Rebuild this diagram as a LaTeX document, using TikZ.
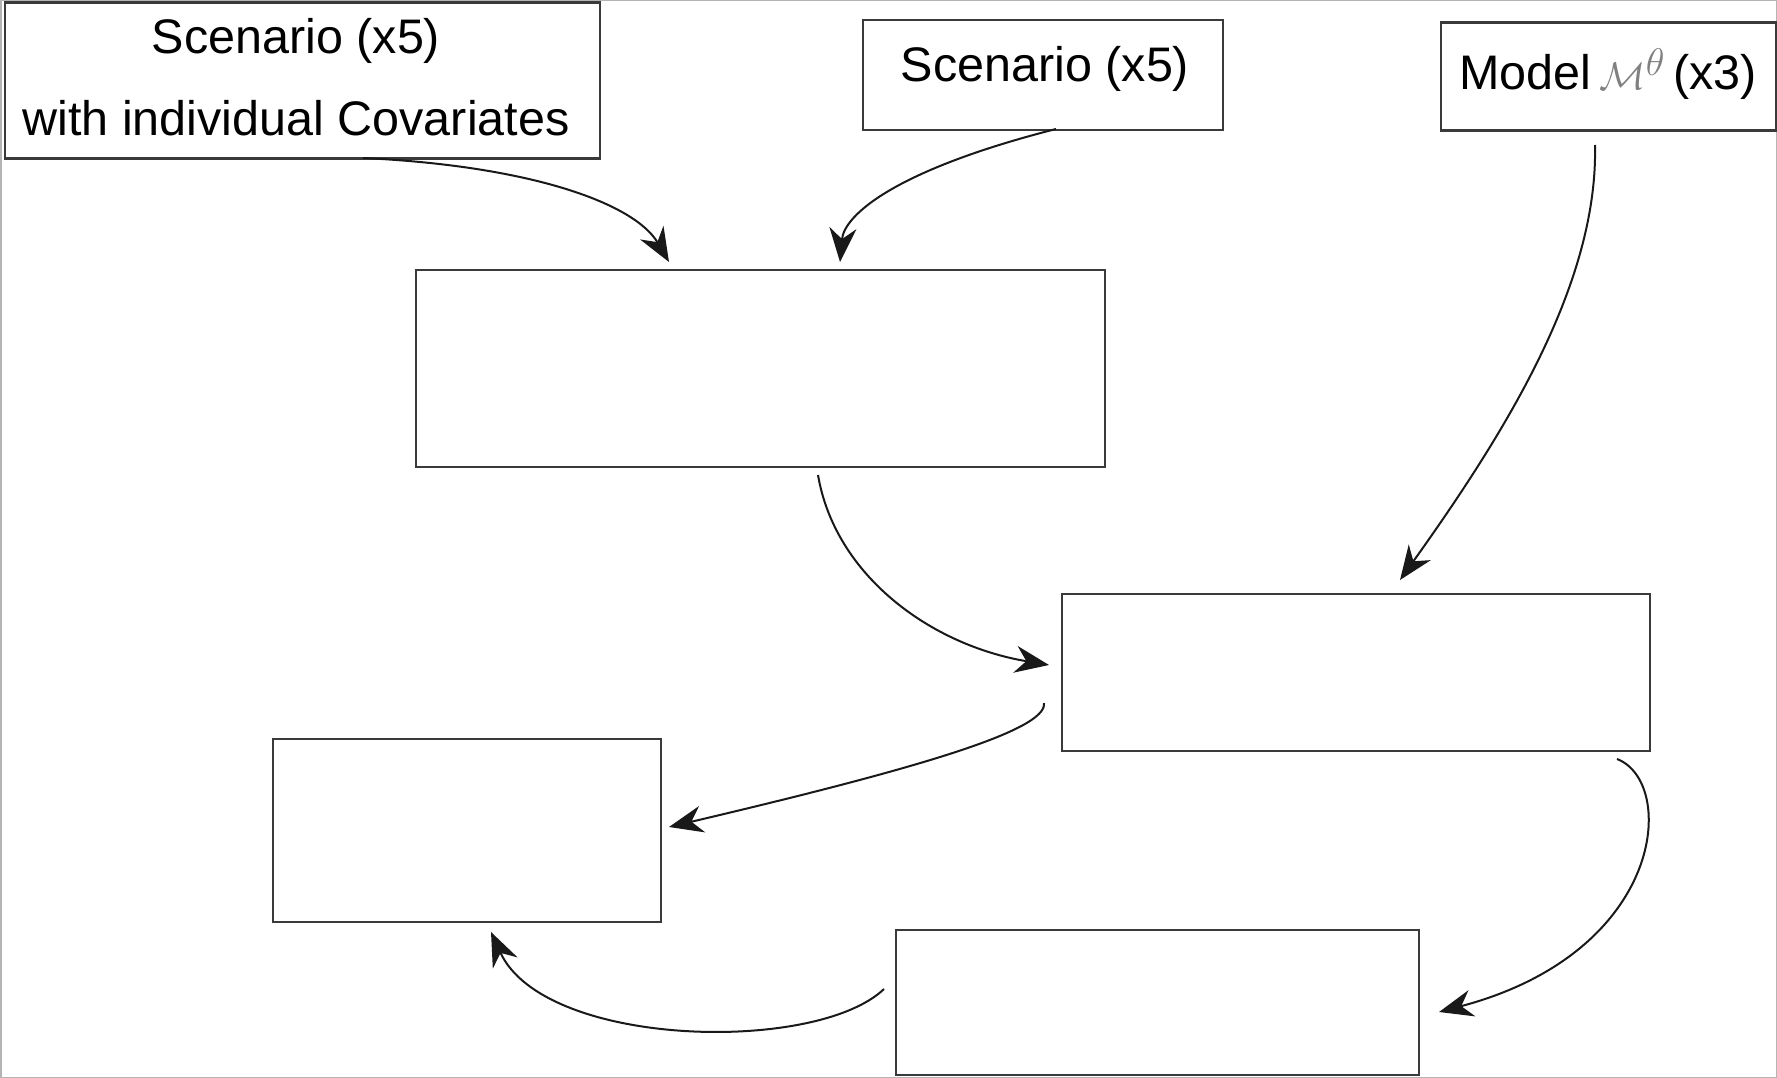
\documentclass[tikz,border=0pt]{standalone}
\usepackage{fontspec}
\setmainfont{Liberation Sans}
\usetikzlibrary{arrows.meta}
\definecolor{boxline}{HTML}{3A3A3A}
\definecolor{framegray}{HTML}{B4B4B4}
\begin{document}
\begin{tikzpicture}[x=1pt, y=-1pt,
  box/.style={draw=boxline, line width=2.2pt, inner sep=0pt, anchor=north west},
  lbl/.style={font=\fontsize{48.5}{82}\selectfont, align=center, text=black},
  flow/.style={line width=2pt, draw=black!90,
    -{Stealth[length=34pt, width=27pt, inset=11pt]}}]
  \useasboundingbox (0,0) rectangle (1777,1078);
  % outer frame
  \draw[framegray, line width=1.5pt] (0.75,0.75) rectangle (1776.25,1077.25);

  % input boxes
  \node[box, minimum width=595pt, minimum height=156pt] (cov) at (3.5,1.5) {};
  \node[lbl] (covtxt) at (296,77) {Scenario (x5)\\with individual Covariates};
  \node[box, minimum width=360pt, minimum height=110pt] (scen) at (862,19) {};
  \node[lbl] (scentxt) at (1045,69) {Scenario (x5)};
  \node[box, minimum width=335pt, minimum height=108pt] (model) at (1440,21.5) {};
  \node[lbl] (modeltxt) at (1608,74)
    {Model\,{\color{black!50}\scalebox{1.55}{$\mathcal{M}^{\theta}$}}\,(x3)};

  % process boxes
  \node[box, minimum width=689pt, minimum height=197pt] (prep) at (415,269) {};
  \node[box, minimum width=588pt, minimum height=157pt] (sim) at (1061,593) {};
  \node[box, minimum width=388pt, minimum height=183pt] (eval) at (272,738) {};
  \node[box, minimum width=523pt, minimum height=145pt] (res) at (895,929) {};

  % connector end points
  \coordinate (c1s) at (363,158);   \coordinate (c1e) at (669,262);
  \coordinate (c2s) at (1056,129);  \coordinate (c2e) at (840,262);
  \coordinate (c3s) at (1595,145);  \coordinate (c3e) at (1400,580);
  \coordinate (c4s) at (818,475);   \coordinate (c4e) at (1049,665);
  \coordinate (c5s) at (1044,703);  \coordinate (c5e) at (669,827);
  \coordinate (c6s) at (1617,759);  \coordinate (c6e) at (1439,1012);
  \coordinate (c7s) at (884,989);   \coordinate (c7e) at (491,932);

  % connectors
  \draw[flow] (c1s) .. controls (533,166) and (635,204) .. (c1e);
  \draw[flow] (c2s) .. controls (895,170) and (844,215) .. (c2e);
  \draw[flow] (c3s) .. controls (1598,283) and (1507,430) .. (c3e);
  \draw[flow] (c4s) .. controls (835,575) and (930,645) .. (c4e);
  \draw[flow] (c5s) .. controls (1048,731) and (907,771) .. (c5e);
  \draw[flow] (c6s) .. controls (1677,782) and (1666,952) .. (c6e);
  \draw[flow] (c7s) .. controls (816,1054) and (544,1048) .. (c7e);
\end{tikzpicture}
\end{document}
